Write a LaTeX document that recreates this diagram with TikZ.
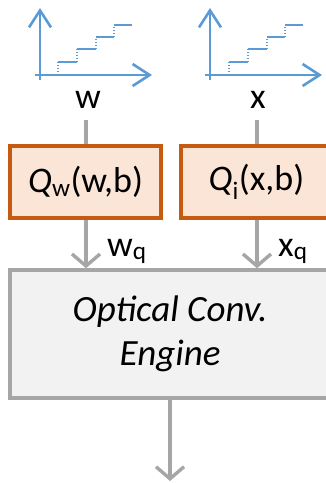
\documentclass[tikz,border=0pt]{standalone}
\usepackage{fontspec}
\setmainfont{Carlito}
\usetikzlibrary{arrows.meta}
\definecolor{axblue}{HTML}{5B9BD5}
\definecolor{qorange}{HTML}{C55A11}
\definecolor{qfill}{HTML}{FBE5D6}
\definecolor{egray}{HTML}{A6A6A6}
\definecolor{efill}{HTML}{F2F2F2}
\tikzset{
  axis/.style={draw=axblue,line width=2.6pt,-{Straight Barb[length=17pt,width=22pt,line width=2.6pt]}},
  stair/.style={draw=axblue,line width=1.3pt},
  riser/.style={draw=axblue,line width=1.1pt,dotted},
  qbox/.style={draw=qorange,fill=qfill,line width=3.2pt,minimum width=151pt,minimum height=72pt,inner sep=0pt,font=\fontsize{36}{38}\selectfont},
  ebox/.style={draw=egray,fill=efill,line width=3.5pt,minimum width=320pt,minimum height=128pt,inner sep=0pt,align=center,font=\itshape\fontsize{37}{44}\selectfont},
  flow/.style={draw=egray,line width=3.4pt,-{Straight Barb[length=12pt,width=28pt,line width=3.4pt]}},
  plain/.style={draw=egray,line width=3.4pt},
  lbl/.style={font=\fontsize{36}{38}\selectfont,inner sep=0pt}
}
\begin{document}
\begin{tikzpicture}[x=1pt,y=-1pt]
\useasboundingbox (0,0) rectangle (326,483);
\clip (0,0) rectangle (326,483);
% left quantization plot
\draw[axis] (40,80) -- (40,8);
\draw[axis] (35,75) -- (152,75);
\draw[riser] (58,75) -- (58,62);
\draw[stair] (58,62) -- (77,62);
\draw[riser] (77,62) -- (77,49);
\draw[stair] (77,49) -- (96,49);
\draw[riser] (96,49) -- (96,37);
\draw[stair] (96,37) -- (114,37);
\draw[riser] (114,37) -- (114,25);
\draw[stair] (114,25) -- (132,25);
% right quantization plot
\draw[axis] (210,80) -- (210,8);
\draw[axis] (205,75) -- (322,75);
\draw[riser] (229,75) -- (229,62);
\draw[stair] (229,62) -- (248,62);
\draw[riser] (248,62) -- (248,49);
\draw[stair] (248,49) -- (267,49);
\draw[riser] (267,49) -- (267,37);
\draw[stair] (267,37) -- (285,37);
\draw[riser] (285,37) -- (285,25);
\draw[stair] (285,25) -- (303,25);
% labels
\node[lbl,anchor=base] (w) at (88,108) {w};
\node[lbl,anchor=base] (x) at (258,108) {x};
% boxes
\node[qbox] (qw) at (85.5,182) {\textit{Q}\textsubscript{w}(w,b)};
\node[qbox] (qx) at (256.5,182) {\textit{Q}\textsubscript{i}(x,b)};
\node[ebox] (eng) at (170,334) {Optical Conv.\\Engine};
\coordinate (wtop) at (86,120);
\coordinate (xtop) at (257,120);
\coordinate (out) at (170,481);
\draw[plain] (wtop) -- (qw.north -| wtop);
\draw[plain] (xtop) -- (qx.north -| xtop);
\draw[flow] (qw.south -| wtop) -- (eng.north -| wtop);
\draw[flow] (qx.south -| xtop) -- (eng.north -| xtop);
\draw[flow] (eng.south) -- (out);
\node[lbl,anchor=base west] (wq) at (107,256) {w\textsubscript{q}};
\node[lbl,anchor=base west] (xq) at (278,256) {x\textsubscript{q}};
\end{tikzpicture}
\end{document}
